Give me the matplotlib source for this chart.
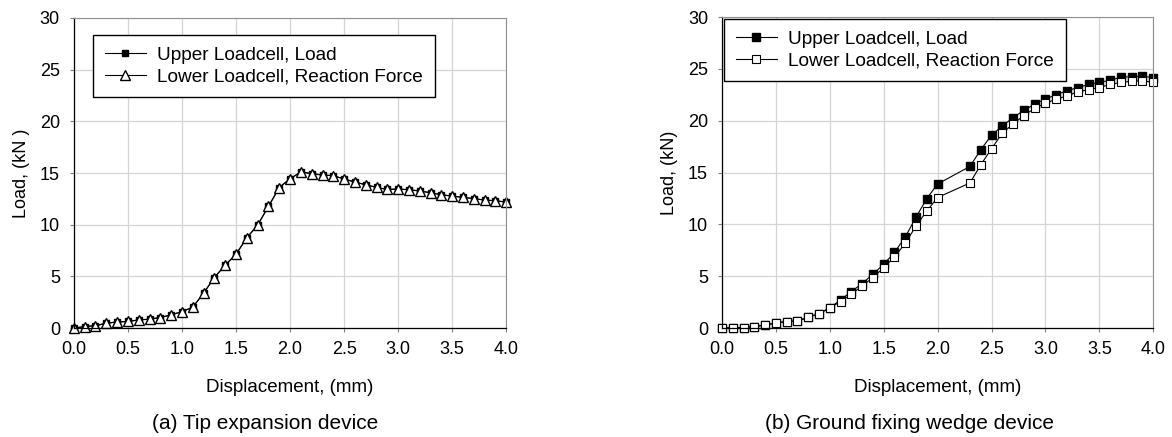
import numpy as np
import matplotlib
matplotlib.use("Agg")
import matplotlib.pyplot as plt

plt.rcParams["font.family"] = ["Liberation Sans", "DejaVu Sans"]

# (a) tip expansion device, displacement every 0.1 mm
disp = [round(0.1 * i, 1) for i in range(41)]
upper_a = [0.0, 0.16, 0.24, 0.48, 0.6, 0.65, 0.8, 0.87, 1.03, 1.29, 1.6,
           2.03, 3.39, 4.9, 6.1, 7.15, 8.74, 9.97, 11.77, 13.6, 14.45,
           15.1, 14.95, 14.8, 14.75, 14.42, 14.13, 13.87, 13.61, 13.42, 13.45,
           13.39, 13.26, 13.1, 12.9, 12.77, 12.65, 12.52, 12.39, 12.32, 12.19]
lower_a = [0.0, 0.16, 0.24, 0.48, 0.6, 0.65, 0.8, 0.87, 1.03, 1.29, 1.6,
           2.03, 3.39, 4.9, 6.1, 7.15, 8.74, 9.97, 11.77, 13.6, 14.45,
           15.1, 14.95, 14.8, 14.75, 14.42, 14.13, 13.87, 13.61, 13.42, 13.45,
           13.39, 13.26, 13.1, 12.9, 12.77, 12.65, 12.52, 12.39, 12.32, 12.19]

# (b) ground fixing wedge device (no readings at 2.1, 2.2)
disp_b = [0.0, 0.1, 0.2, 0.3, 0.4, 0.5, 0.6, 0.7, 0.8, 0.9, 1.0,
          1.1, 1.2, 1.3, 1.4, 1.5, 1.6, 1.7, 1.8, 1.9, 2.0,
          2.3, 2.4, 2.5, 2.6, 2.7, 2.8, 2.9, 3.0,
          3.1, 3.2, 3.3, 3.4, 3.5, 3.6, 3.7, 3.8, 3.9, 4.0]
upper_b = [0.0, 0.06, 0.06, 0.16, 0.3, 0.5, 0.64, 0.7, 1.06, 1.4, 1.96,
           2.73, 3.53, 4.3, 5.2, 6.16, 7.3, 8.8, 10.7, 12.5, 13.9,
           15.6, 17.2, 18.6, 19.5, 20.3, 21.0, 21.6, 22.1,
           22.5, 22.9, 23.2, 23.5, 23.7, 23.9, 24.2, 24.25, 24.3, 24.15]
lower_b = [0.0, 0.06, 0.06, 0.16, 0.3, 0.5, 0.64, 0.7, 1.06, 1.4, 1.96,
           2.57, 3.27, 4.07, 4.88, 5.84, 6.87, 8.18, 9.85, 11.3, 12.6,
           14.0, 15.75, 17.3, 18.8, 19.7, 20.5, 21.2, 21.7,
           22.07, 22.4, 22.8, 23.0, 23.2, 23.5, 23.7, 23.8, 23.85, 23.7]

xticks = [0.0, 0.5, 1.0, 1.5, 2.0, 2.5, 3.0, 3.5, 4.0]
yticks = [0, 5, 10, 15, 20, 25, 30]

fig = plt.figure(figsize=(11.72, 4.37), dpi=100)
ax1 = fig.add_axes([0.063, 0.249, 0.369, 0.710])
ax2 = fig.add_axes([0.616, 0.249, 0.368, 0.712])


def style(ax, ylabel):
    ax.set_xlim(0, 4)
    ax.set_ylim(0, 30)
    ax.set_xticks(xticks)
    ax.set_xticklabels(["%.1f" % t for t in xticks], fontsize=13)
    ax.set_yticks(yticks)
    ax.set_yticklabels([str(t) for t in yticks], fontsize=13)
    ax.grid(True, color="#d4d4d4", linewidth=0.9)
    ax.set_axisbelow(True)
    for s in ["top", "right"]:
        ax.spines[s].set_color("#909090")
    for s in ["left", "bottom"]:
        ax.spines[s].set_color("black")
        ax.spines[s].set_linewidth(0.9)
    ax.tick_params(direction="out", length=3, width=0.8, color="#808080")
    ax.tick_params(axis="y", pad=7)
    ax.tick_params(axis="x", pad=6)
    ax.set_xlabel("Displacement, (mm)", fontsize=13.5, labelpad=15)
    ax.set_ylabel(ylabel, fontsize=13, labelpad=7)


def legend(ax, anchor):
    ax.legend(loc="upper left", bbox_to_anchor=anchor, borderaxespad=0,
              fontsize=13.7, fancybox=False, edgecolor="black", framealpha=1,
              handlelength=2.15, handletextpad=0.6, borderpad=0.62,
              labelspacing=0.22)


ax1.plot(disp, upper_a, color="black", lw=0.8, marker="s", ms=5,
         mfc="black", mec="black", label="Upper Loadcell, Load", clip_on=False)
ax1.plot(disp, lower_a, color="black", lw=0.8, marker="^", ms=6.5,
         mfc="white", mec="black", mew=1.0,
         label="Lower Loadcell, Reaction Force", clip_on=False)
style(ax1, "Load, (kN )")
legend(ax1, (0.044, 0.945))

ax2.plot(disp_b, upper_b, color="black", lw=0.8, marker="s", ms=6,
         mfc="black", mec="black", label="Upper Loadcell, Load", clip_on=False)
ax2.plot(disp_b, lower_b, color="black", lw=0.8, marker="s", ms=6,
         mfc="white", mec="black", mew=0.8,
         label="Lower Loadcell, Reaction Force", clip_on=False)
style(ax2, "Load, (kN)")
legend(ax2, (0.005, 0.994))

fig.text(0.226, 0.018, "(a) Tip expansion device", ha="center", fontsize=15)
fig.text(0.776, 0.018, "(b) Ground fixing wedge device", ha="center",
         fontsize=15)

fig.savefig("out.png", dpi=100)
